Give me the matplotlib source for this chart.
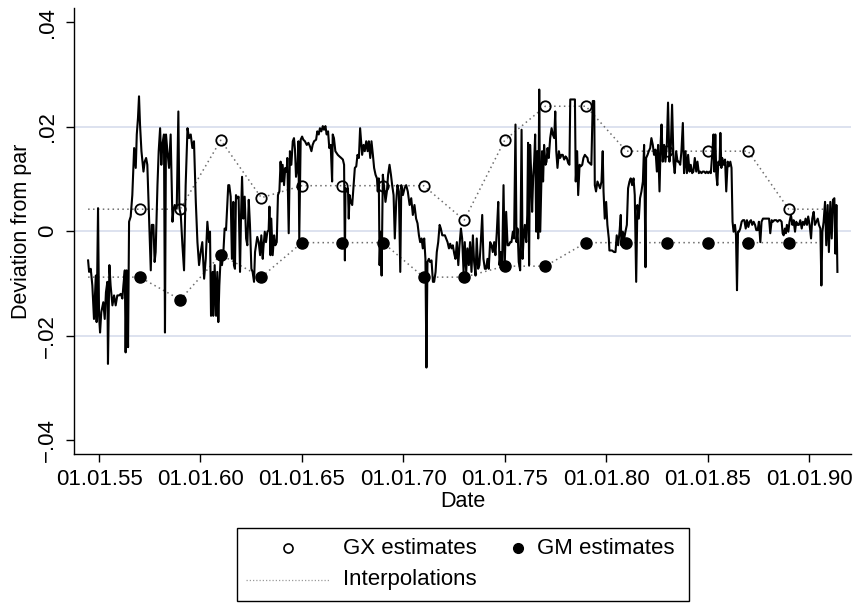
import numpy as np
import matplotlib
matplotlib.use("Agg")
import matplotlib.pyplot as plt
from matplotlib.lines import Line2D
from matplotlib.patches import Rectangle

plt.rcParams['font.family'] = ['Liberation Sans', 'DejaVu Sans']

# observed series: date in years after 1800, deviation from par in 1/1000
dates_yy = [
    54.46, 54.51, 54.59, 54.67, 54.75, 54.84, 54.88, 54.95, 55.00, 55.05,
    55.11, 55.21, 55.28, 55.34, 55.41, 55.44, 55.51, 55.57, 55.66, 55.74,
    55.82, 55.90, 55.99, 56.07, 56.15, 56.20, 56.27, 56.31, 56.36, 56.43,
    56.48, 56.56, 56.64, 56.73, 56.81, 56.86, 56.92, 56.97, 57.02, 57.09,
    57.19, 57.25, 57.32, 57.38, 57.47, 57.55, 57.60, 57.68, 57.74, 57.79,
    57.88, 57.94, 58.01, 58.07, 58.12, 58.20, 58.25, 58.30, 58.37, 58.45,
    58.53, 58.62, 58.66, 58.73, 58.83, 58.91, 58.96, 59.03, 59.11, 59.19,
    59.27, 59.36, 59.44, 59.52, 59.60, 59.68, 59.77, 59.85, 59.93, 60.01,
    60.09, 60.18, 60.26, 60.34, 60.42,
    60.47, 60.52, 60.60, 60.63, 60.70, 60.77, 60.83, 60.88, 60.93, 61.00,
    61.06, 61.13, 61.19, 61.26, 61.32, 61.37, 61.42, 61.49, 61.55, 61.62,
    61.65, 61.70, 61.75, 61.82, 61.88, 61.95, 62.00, 62.05, 62.11, 62.18,
    62.25, 62.31, 62.38, 62.44, 62.51, 62.57, 62.64, 62.69, 62.74, 62.80,
    62.87, 62.94, 63.00, 63.07, 63.10, 63.17, 63.23, 63.30, 63.36, 63.40,
    63.45, 63.49, 63.56, 63.63, 63.69, 63.76, 63.82, 63.89, 63.95, 64.00,
    64.05, 64.12, 64.18, 64.25, 64.28, 64.35, 64.41, 64.48, 64.55, 64.61,
    64.66, 64.71, 64.78, 64.83, 64.87, 64.94, 65.01, 65.07, 65.15, 65.24,
    65.32, 65.40, 65.47, 65.53, 65.60, 65.70, 65.76, 65.83, 65.89, 65.96,
    66.03, 66.09, 66.16, 66.22, 66.29, 66.35, 66.42, 66.49, 66.52, 66.58,
    66.65,
    66.77, 66.85, 66.94, 67.02, 67.08, 67.12, 67.15, 67.22, 67.27, 67.31,
    67.35, 67.41, 67.48, 67.54, 67.61, 67.68, 67.74, 67.81, 67.87, 67.92,
    67.97, 68.04, 68.10, 68.17, 68.24, 68.30, 68.37, 68.43, 68.50, 68.56,
    68.63, 68.70, 68.74, 68.79, 68.83, 68.88, 68.93, 68.99, 69.06, 69.12,
    69.19, 69.25, 69.32, 69.39, 69.45, 69.52, 69.58, 69.65, 69.71, 69.78,
    69.85, 69.90, 69.98, 70.06, 70.14, 70.22, 70.31, 70.39, 70.47, 70.55,
    70.63, 70.70, 70.77, 70.83, 70.90, 70.96, 71.03, 71.09, 71.14, 71.19,
    71.26, 71.32, 71.39, 71.46, 71.52, 71.59, 71.65, 71.72, 71.79, 71.85,
    71.92, 71.98, 72.05, 72.11, 72.18, 72.25, 72.31, 72.38, 72.44, 72.51,
    72.57, 72.64, 72.71, 72.77, 72.84,
    72.90, 72.97, 73.03, 73.10, 73.16, 73.23, 73.29, 73.36, 73.43, 73.49,
    73.56, 73.62, 73.69, 73.75, 73.82, 73.89, 73.95, 74.02, 74.08, 74.15,
    74.21, 74.28, 74.35, 74.41, 74.48, 74.54, 74.61, 74.68, 74.74, 74.81,
    74.87, 74.94, 75.00, 75.07, 75.14, 75.20, 75.27, 75.33, 75.40, 75.46,
    75.53, 75.58, 75.63, 75.69, 75.76, 75.83, 75.88, 75.92, 75.99, 76.06,
    76.11, 76.15, 76.20, 76.25, 76.30, 76.35, 76.40, 76.45, 76.50, 76.55,
    76.60, 76.65, 76.70, 76.75, 76.80, 76.84, 76.89, 76.94, 77.01, 77.06,
    77.11, 77.17, 77.24, 77.31, 77.37, 77.44, 77.49, 77.54, 77.60, 77.67,
    77.73, 77.80, 77.86, 77.93, 78.00, 78.06, 78.13, 78.19, 78.23, 78.46,
    78.50, 78.57, 78.62, 78.69, 78.75, 78.82, 78.88, 78.95, 79.01, 79.08,
    79.11, 79.19, 79.27, 79.34, 79.41, 79.44, 79.50, 79.57, 79.64, 79.70,
    79.77, 79.83, 79.87, 79.93, 80.00, 80.06, 80.13, 80.16, 80.23, 80.29,
    80.39, 80.46, 80.52, 80.59, 80.66, 80.72, 80.75, 80.82, 80.89, 80.95,
    81.02, 81.08, 81.15, 81.21, 81.28, 81.35, 81.41, 81.48, 81.54, 81.61,
    81.67, 81.74, 81.81, 81.87, 81.94, 81.97, 82.04, 82.10, 82.17, 82.23,
    82.30, 82.36, 82.43, 82.50, 82.56, 82.63, 82.69, 82.73, 82.79, 82.86,
    82.92, 82.99, 83.05, 83.12, 83.19, 83.25, 83.32, 83.38, 83.45, 83.52,
    83.58, 83.65, 83.71, 83.78, 83.84, 83.91, 83.98, 84.04, 84.11, 84.17,
    84.24, 84.30, 84.37, 84.44, 84.50, 84.57, 84.63, 84.70, 84.76, 84.83,
    84.90, 84.96, 85.03, 85.09, 85.16, 85.22, 85.29,
    85.33, 85.38, 85.43, 85.48, 85.53, 85.59, 85.63, 85.68, 85.72, 85.79,
    85.86, 85.92, 85.99, 86.05, 86.12, 86.18, 86.23, 86.28, 86.35, 86.40,
    86.45, 86.50, 86.55, 86.61, 86.68, 86.74, 86.81, 86.88, 86.94, 87.01,
    87.07, 87.14, 87.20, 87.27, 87.34, 87.40, 87.47, 87.53, 87.60, 87.66,
    87.73, 87.80, 87.89, 87.96, 88.03, 88.09, 88.16, 88.22, 88.29, 88.39,
    88.45, 88.52, 88.58, 88.65, 88.70, 88.75, 88.81, 88.86, 88.91, 88.98,
    89.04, 89.11, 89.18, 89.24, 89.31, 89.37, 89.44, 89.50, 89.57, 89.64,
    89.70, 89.77, 89.83, 89.90, 89.96, 90.03, 90.10, 90.16, 90.23, 90.29,
    90.36, 90.43, 90.49, 90.56, 90.61, 90.66, 90.72, 90.79, 90.85, 90.92,
    90.98, 91.05, 91.12, 91.18, 91.25, 91.30, 91.35, 91.40,
]
dev_pm = [
    -5.6, -7.8, -7.2, -10.4, -16.8, -8.5, -17.4, 4.4, -16.2, -19.4,
    -15.5, -13.6, -16.8, -11.7, -9.7, -25.4, -6.5, -10.4, -14.2, -12.3,
    -14.2, -12.3, -12.3, -12.0, -12.9, -10.4, -7.5, -23.2, -7.5, -22.2,
    1.8, 2.8, 6.9, 15.9, 12.1, 18.5, 21.7, 25.8, 20.4, 15.3,
    11.4, 13.3, 14.0, 12.7, 1.8, -7.5, 1.2, 1.2, -5.9, -4.0,
    8.8, 15.3, 19.7, 12.7, 16.5, 18.5, -19.4, 18.5, 15.3, 12.1,
    18.5, 1.8, 3.7, 5.0, 4.4, 22.9, 4.4, 3.1, -2.7, -7.5,
    8.8, 19.7, 17.8, 18.5, 15.9, 17.2, 5.6, -2.1, -6.5, -4.0,
    -2.1, -9.1, -5.3, 1.8, -2.1,
    -0.1, -16.2, -7.8, -16.2, -6.5, -16.2, -7.8, -17.4, -10.4, -4.6,
    -6.5, -4.0, 0.5, 0.2, 5.0, 8.8, 8.8, 6.6, -5.3, 5.6,
    -6.5, -7.2, 6.9, 6.3, 6.6, -7.8, 3.1, 10.4, 2.4, 6.6,
    -1.4, -2.7, 6.0, 1.2, -7.2, -7.8, -9.7, -4.0, -2.7, -1.1,
    -2.1, -4.6, -0.8, -5.3, -3.3, -0.1, -2.1, -0.1, 0.2, 4.7,
    -4.6, 2.4, -4.6, -0.8, -2.7, -2.1, 6.9, 7.6, 13.3, 9.5,
    12.7, 8.8, 12.1, 11.4, 14.0, -0.4, 15.3, 12.7, 17.2, 17.8,
    15.6, 10.4, 12.1, 17.2, -1.4, 17.5, 18.1, 17.5, 17.2, 16.5,
    16.9, 16.2, 15.3, 16.5, 17.2, 17.5, 19.1, 18.5, 19.7, 19.1,
    20.1, 19.4, 20.1, 18.5, 19.1, 15.9, 16.5, 9.5, 18.5, 17.8,
    15.3,
    14.6, 14.3, 14.0, 13.7, 12.7, -5.6, 8.2, 7.6, 8.2, 2.4,
    6.9, 5.6, 5.0, 8.2, 12.1, 12.4, 14.6, 14.0, 19.7, 17.2,
    14.6, 16.5, 15.3, 17.2, 15.3, 17.2, 14.0, 17.2, 14.6, 12.1,
    10.8, 10.1, 7.6, 10.1, -6.5, -0.1, -8.5, 10.8, 8.2, 5.6,
    7.6, 10.8, 12.7, 10.8, 8.8, 6.9, -1.4, 5.6, 8.8, 7.6,
    -7.8, 8.8, 6.9, 8.2, 8.8, 7.6, 5.0, 6.3, 3.1, 5.0,
    2.4, 1.5, -0.8, -2.1, -1.4, -3.3, -1.4, -5.3, -26.1, -5.9,
    -5.3, -5.9, -5.6, -9.7, -9.7, -7.8, -4.0, -2.1, 1.2, 0.5,
    -0.8, -0.8, -0.8, -1.4, -2.1, -3.3, -2.4, -3.3, -2.7, -4.3,
    -5.3, -2.1, -6.5, -2.7, 0.5,
    -1.4, -7.8, -2.1, -7.8, -3.3, -6.5, -2.1, -7.8, -0.8, -5.9,
    -8.5, -1.4, -7.2, -6.5, -2.1, 3.1, -5.3, -7.2, -7.2, -5.3,
    -7.2, -2.1, -2.7, -4.0, -2.1, -4.6, -0.1, 5.6, -6.5, -4.0,
    -6.9, 8.8, -6.5, 3.7, -2.7, -2.7, -2.1, -2.1, -0.1, -1.4,
    20.4, -2.1, 0.5, -5.9, -7.5, 19.4, -5.3, -2.1, 1.2, -2.1,
    3.1, 16.9, -6.5, 16.5, 11.4, 3.7, 10.1, 13.3, 18.5, -0.1,
    15.3, -1.4, 27.1, -0.1, 8.8, 15.3, 9.5, 16.5, 12.7, 13.3,
    15.9, 14.0, 17.8, 19.7, 18.5, 17.8, 22.9, 15.3, 12.1, 15.3,
    14.0, 14.6, 14.6, 13.7, 14.3, 14.0, 13.0, 12.7, 25.2, 25.2,
    9.5, 15.3, 6.9, 12.7, 12.4, 12.7, 14.0, 14.6, 14.3, 14.0,
    13.3, 13.0, 12.7, 24.9, 24.9, 8.8, 7.6, 9.5, 8.8, 8.2,
    9.5, 15.3, 7.6, 2.4, 5.6, 1.2, -1.4, -3.7, -3.7, -3.7,
    -4.0, -4.0, -0.8, -2.7, -0.1, 3.1, -2.7, -0.1, -1.4, -0.1,
    1.2, 8.2, 9.5, 10.1, 8.8, 10.1, 6.9, -9.7, 5.0, 2.4,
    6.3, 7.6, 9.5, 16.5, -6.9, 14.0, 14.6, 15.3, 15.9, 17.8,
    16.5, 14.6, 15.6, 11.4, 16.5, 7.6, 17.2, 20.4, 13.3, 16.5,
    13.3, 16.5, 24.6, 13.3, 16.5, 24.2, 13.3, 11.1, 15.3, 13.3,
    13.3, 12.7, 15.3, 20.7, 11.1, 15.3, 11.1, 14.6, 11.4, 12.7,
    11.1, 11.4, 14.0, 11.4, 13.3, 11.1, 11.4, 11.1, 11.4, 11.4,
    11.1, 11.4, 11.1, 11.4, 11.1, 14.3, 18.5,
    11.4, 18.5, 10.8, 8.8, 13.3, 12.7, 18.8, 12.1, 14.0, 12.7,
    13.7, 7.6, 13.3, 12.4, 13.3, 12.1, 1.8, -0.1, 1.2, -0.8,
    -11.3, -0.1, -0.1, 0.5, 1.8, 2.1, 2.1, 0.5, 2.1, 0.8,
    1.8, 2.1, 1.2, 1.8, 1.2, 0.2, 0.2, 1.8, -2.1, 1.8,
    2.4, 2.4, 2.4, 2.4, 2.4, -0.4, 2.1, 1.8, 2.1, 2.1,
    1.8, 2.1, 2.1, 1.8, -0.4, -0.8, 0.5, -0.4, 1.2, -0.1,
    1.8, 3.1, 1.2, 2.1, -0.1, 1.8, 1.2, 1.2, 2.1, 0.5,
    1.8, 1.2, 2.4, 1.2, 2.8, 1.2, -1.4, 2.4, 3.7, 1.2,
    1.8, 2.4, 1.2, 0.5, -10.4, -0.1, 1.8, 5.6, -2.7, 5.0,
    -4.0, 5.6, -1.4, 6.0, 6.3, -4.3, 5.0, -7.8,
]

# two-yearly estimates
est_years = [1857, 1859, 1861, 1863, 1865, 1867, 1869, 1871, 1873,
             1875, 1877, 1879, 1881, 1883, 1885, 1887, 1889]
gx_est = [.0042, .0042, .0174, .0064, .0087, .0087, .0087, .0087, .0021,
          .0174, .0239, .0239, .0153, .0153, .0153, .0153, .0042]
gm_est = [-.0088, -.0131, -.0045, -.0088, -.0022, -.0022, -.0022, -.0088, -.0088,
          -.0067, -.0067, -.0022, -.0022, -.0022, -.0022, -.0022, -.0022]
interp_start = 1854.46
interp_end = 1890.70

xtick_years = [1855, 1860, 1865, 1870, 1875, 1880, 1885, 1890]
xtick_labels = ['01.01.55', '01.01.60', '01.01.65', '01.01.70',
                '01.01.75', '01.01.80', '01.01.85', '01.01.90']
ytick_vals = [-.04, -.02, 0, .02, .04]
ytick_labels = ['\u2212.04', '\u2212.02', '0', '.02', '.04']
grid_vals = [-.02, 0, .02]

assert len(dates_yy) == len(dev_pm)
dates = 1800 + np.array(dates_yy)
dev = np.array(dev_pm) / 1000.0

W, H = 857, 603
fig = plt.figure(figsize=(W / 100, H / 100), dpi=100)
ax = fig.add_axes([74.3 / W, 1 - 454.3 / H, (851 - 74.3) / W, (454.3 - 8) / H])

for g in grid_vals:
    ax.axhline(g, color='#dde2ef', lw=1.4, zorder=0)

dot_style = (0, (1.0, 2.2))
ix = [interp_start] + est_years + [interp_end]
ax.plot(ix, [gx_est[0]] + gx_est + [gx_est[-1]], color='#6e6e6e', lw=1.1,
        linestyle=dot_style, zorder=1)
ax.plot(ix, [gm_est[0]] + gm_est + [gm_est[-1]], color='#6e6e6e', lw=1.1,
        linestyle=dot_style, zorder=1)

ax.plot(dates, dev, color='black', lw=1.5, zorder=2)

ax.plot(est_years, gx_est, 'o', ms=7.5, mfc='none', mec='black', mew=1.3, zorder=3)
ax.plot(est_years, gm_est, 'o', ms=8, mfc='black', mec='black', zorder=3)

ax.set_xlim(1853.78, 1892.07)
ax.set_ylim(-0.0427, 0.0427)
ax.set_xticks(xtick_years)
ax.set_xticklabels(xtick_labels)
ax.set_yticks(ytick_vals)
ax.set_yticklabels(ytick_labels, rotation=90, va='center')
ax.tick_params(axis='both', direction='out', length=5.5, width=1, labelsize=16, color='black')
ax.tick_params(axis='x', pad=5)
ax.tick_params(axis='y', pad=6)
for s in ['top', 'right']:
    ax.spines[s].set_visible(False)
for s in ['left', 'bottom']:
    ax.spines[s].set_linewidth(1.0)

ax.set_xlabel('Date', fontsize=15.5, labelpad=1)
ax.set_ylabel('Deviation from par', fontsize=15.5, labelpad=4)

# legend box below the plot
fig.add_artist(Rectangle((236.7 / W, 1 - 601 / H), 452 / W, 73.3 / H,
                         transform=fig.transFigure, fill=False, ec='black', lw=1.0))
row1 = 1 - 548 / H
row2 = 1 - 580 / H
fig.add_artist(Line2D([288 / W], [row1], transform=fig.transFigure, marker='o',
                      ms=6.5, mfc='none', mec='black', mew=1.2, ls='none'))
fig.text(343.3 / W, row1, 'GX estimates', fontsize=16, va='center', ha='left')
fig.add_artist(Line2D([518 / W], [row1], transform=fig.transFigure, marker='o',
                      ms=7, mfc='black', mec='black', ls='none'))
fig.text(537.3 / W, row1, 'GM estimates', fontsize=16, va='center', ha='left')
fig.add_artist(Line2D([246 / W, 330 / W], [row2, row2], transform=fig.transFigure,
                      color='#9a9a9a', lw=0.9, linestyle=(0, (1.0, 1.6))))
fig.text(343.3 / W, row2, 'Interpolations', fontsize=16, va='center', ha='left')

fig.savefig('out.png', dpi=100)
